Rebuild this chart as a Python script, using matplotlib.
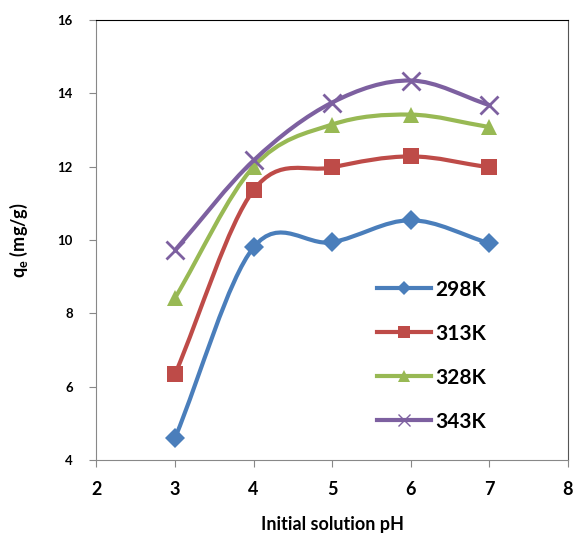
import numpy as np
import matplotlib
matplotlib.use("Agg")
import matplotlib.pyplot as plt
from matplotlib.path import Path
from matplotlib.patches import PathPatch
from matplotlib.lines import Line2D

plt.rcParams['font.family'] = ['Lato', 'DejaVu Sans']

ph = [3, 4, 5, 6, 7]
q298 = [4.6, 9.8, 9.94, 10.54, 9.91]
q313 = [6.34, 11.36, 11.98, 12.28, 11.98]
q328 = [8.42, 12.0, 13.15, 13.42, 13.08]
q343 = [9.72, 12.17, 13.75, 14.35, 13.68]
labels = ['298K', '313K', '328K', '343K']
colors = ['#4A7EBB', '#BE4B48', '#98B954', '#7D60A0']
markers = ['D', 's', '^', 'x']
msizes = [10, 11.5, 12, 13]


def smooth_path(x, y):
    # Excel-like smoothed line: cubic Bezier through the points
    p = np.column_stack([x, y]).astype(float)
    n = len(p)
    verts = [p[0]]
    codes = [Path.MOVETO]
    for i in range(n - 1):
        t0 = (p[i + 1] - p[i - 1]) / 2 if i > 0 else (p[i + 1] - p[i])
        t1 = (p[i + 2] - p[i]) / 2 if i + 2 < n else (p[i + 1] - p[i])
        verts += [p[i] + t0 / 3, p[i + 1] - t1 / 3, p[i + 1]]
        codes += [Path.CURVE4] * 3
    return Path(verts, codes)


fig = plt.figure(figsize=(5.74, 5.41), dpi=100)
ax = fig.add_axes([0.168, 0.1497, 0.8215, 0.8133])

handles = []
for ys, c, m, ms, lab in zip([q298, q313, q328, q343], colors, markers, msizes, labels):
    ax.add_patch(PathPatch(smooth_path(ph, ys), fill=False, edgecolor=c, lw=3, zorder=2))
    mew = 2 if m == 'x' else 0
    ax.plot(ph, ys, ls='none', marker=m, ms=ms, color=c, mew=mew, zorder=3)
    handles.append(Line2D([], [], color=c, lw=3, marker=m, ms=ms * 0.7,
                          mew=1 if m == 'x' else 0))

ax.set_xlim(2, 8)
ax.set_ylim(4, 16)
ax.set_xticks(range(2, 9))
ax.set_yticks(range(4, 17, 2))
ax.tick_params(axis='x', labelsize=13, length=5, color='#888888', pad=10)
ax.tick_params(axis='y', labelsize=9.5, length=5, color='#888888', pad=12)
for t in ax.get_xticklabels() + ax.get_yticklabels():
    t.set_fontweight('bold')
for s in ['left', 'bottom']:
    ax.spines[s].set_color('#888888')
ax.spines['top'].set_color('black')
ax.spines['right'].set_color('#555555')

ax.set_xlabel('Initial solution pH', fontsize=13, fontweight='bold', labelpad=13)
ax.set_ylabel('q$_\\mathregular{e}$ (mg/g)', fontsize=13, fontweight='bold', labelpad=20)

leg = ax.legend(handles, labels, loc='lower right', bbox_to_anchor=(0.866, 0.022),
                frameon=False, handlelength=2.6, labelspacing=1.15,
                handletextpad=0.2, prop={'size': 15, 'weight': 'bold'})

fig.savefig('out.png', dpi=100)
